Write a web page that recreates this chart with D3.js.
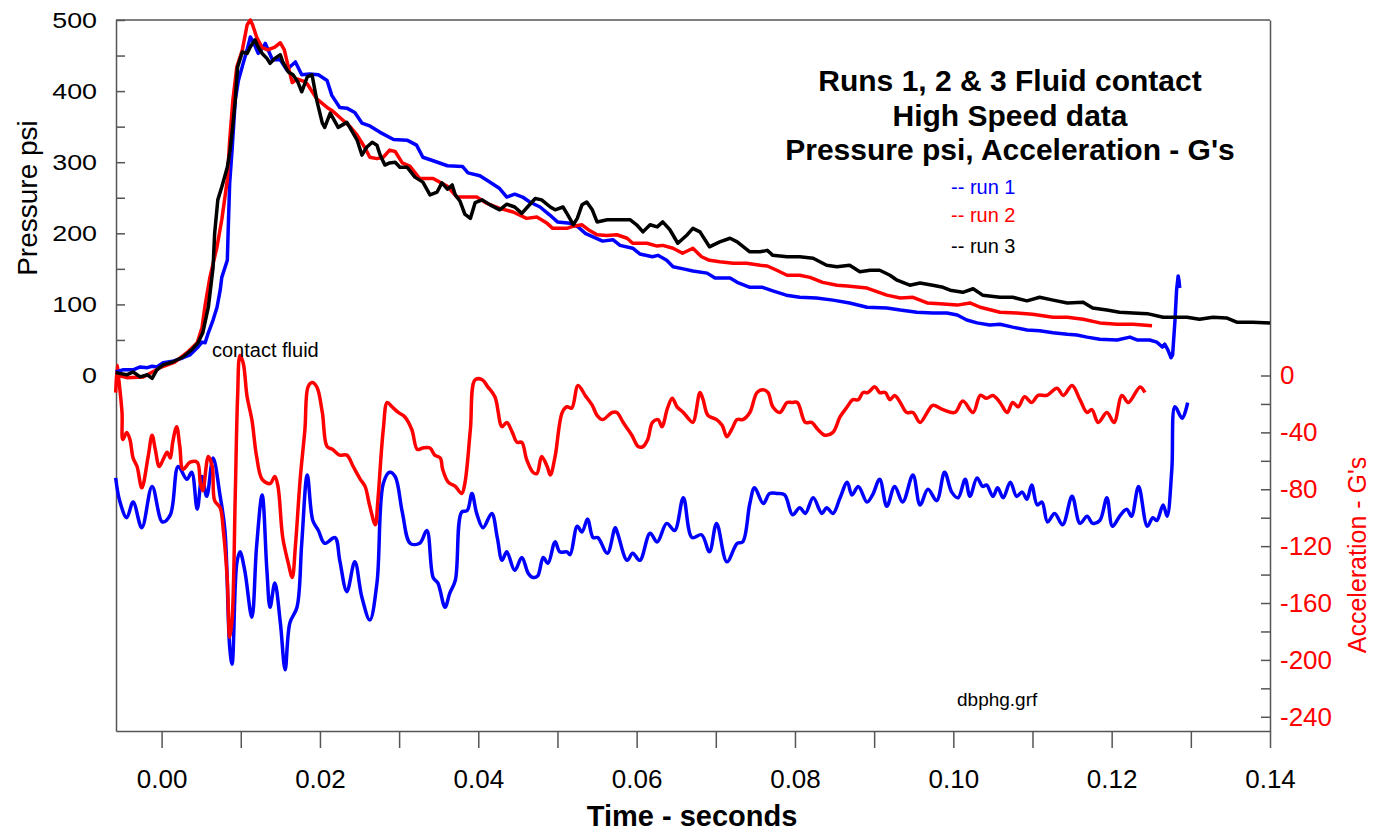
<!DOCTYPE html>
<html>
<head>
<meta charset="utf-8">
<script src="https://cdn.jsdelivr.net/npm/d3@7"></script>
<style>
    body { margin: 0; background: #fff; }
    text { font-family: "Liberation Sans", Arial, sans-serif; }
</style>
</head>
<body>
<div id="chart"></div>
<script>
// Run 1 (blue) pressure, psi
var run1Time = [
    -0.0058,-0.0049,-0.0036,-0.0027,-0.0018,-0.0012,-0.0006,0.0002,0.0014,0.0027,
    0.0036,0.0045,0.0051,0.0055,0.0059,0.0065,0.0070,0.0074,0.0076,0.0083,
    0.0084,0.0086,0.0089,0.0093,0.0097,0.0103,0.0108,0.0112,0.0116,0.0122,
    0.0127,0.0131,0.0140,0.0150,0.0158,0.0169,0.0177,0.0187,0.0198,0.0209,
    0.0215,0.0225,0.0234,0.0244,0.0253,0.0263,0.0276,0.0293,0.0310,0.0322,
    0.0330,0.0343,0.0361,0.0380,0.0387,0.0402,0.0412,0.0427,0.0436,0.0446,
    0.0456,0.0465,0.0478,0.0490,0.0500,0.0516,0.0526,0.0535,0.0545,0.0557,
    0.0570,0.0579,0.0595,0.0604,0.0620,0.0627,0.0638,0.0646,0.0659,0.0671,
    0.0689,0.0699,0.0718,0.0727,0.0743,0.0759,0.0772,0.0789,0.0806,0.0827,
    0.0848,0.0869,0.0891,0.0916,0.0933,0.0954,0.0974,0.0992,0.1005,0.1017,
    0.1030,0.1046,0.1059,0.1075,0.1093,0.1109,0.1126,0.1144,0.1156,0.1169,
    0.1185,0.1207,0.1223,0.1232,0.1248,0.1257,0.1264,0.1267,0.1271,0.1275,
    0.1277,0.1280,0.1282,0.1284,0.1285,0.1286];
var run1Pressure = [
    5,8,8,12,11,13,12,18,20,25,
    29,39,47,46,60,78,96,120,138,162,
    200,271,317,387,415,439,458,476,469,453,
    460,467,444,444,430,441,423,424,423,415,
    394,377,376,370,355,351,342,332,331,324,
    307,302,295,294,285,281,274,263,251,255,
    251,244,237,226,216,214,209,200,195,189,
    191,183,179,171,167,169,162,153,150,147,
    144,137,137,131,124,124,119,113,110,109,
    106,102,96,95,92,89,88,88,85,78,
    74,71,72,68,64,63,60,58,57,54,
    51,50,54,50,50,47,40,44,36,25,
    29,78,120,140,134,123];

// Run 2 (red) pressure, psi
var run2Time = [
    -0.0058,-0.0044,-0.0023,-0.0002,0.0017,0.0032,0.0045,0.0051,0.0055,0.0061,
    0.0070,0.0076,0.0083,0.0086,0.0090,0.0095,0.0102,0.0108,0.0112,0.0115,
    0.0120,0.0127,0.0134,0.0143,0.0150,0.0155,0.0160,0.0165,0.0171,0.0179,
    0.0184,0.0196,0.0209,0.0216,0.0228,0.0238,0.0247,0.0257,0.0263,0.0272,
    0.0280,0.0288,0.0295,0.0304,0.0314,0.0326,0.0343,0.0361,0.0373,0.0386,
    0.0398,0.0411,0.0427,0.0444,0.0461,0.0474,0.0487,0.0494,0.0512,0.0520,
    0.0531,0.0539,0.0550,0.0562,0.0575,0.0588,0.0595,0.0613,0.0626,0.0633,
    0.0646,0.0658,0.0671,0.0682,0.0692,0.0705,0.0722,0.0739,0.0756,0.0765,
    0.0777,0.0790,0.0806,0.0819,0.0835,0.0853,0.0866,0.0891,0.0916,0.0933,
    0.0949,0.0967,0.0983,0.1005,0.1021,0.1034,0.1059,0.1080,0.1100,0.1126,
    0.1144,0.1164,0.1185,0.1207,0.1227,0.1251];
var run2Pressure = [
    1,-3,-2,11,19,32,46,67,99,138,
    181,219,275,331,387,434,458,493,500,493,
    476,461,458,462,468,458,434,412,417,414,
    410,389,377,372,360,350,338,320,307,305,
    307,317,315,299,294,277,277,266,251,251,
    251,242,235,230,221,223,214,207,207,210,
    212,205,198,197,198,193,186,186,182,183,
    179,172,179,167,162,160,158,158,155,154,
    148,141,141,138,131,127,126,123,113,109,
    110,102,101,99,102,96,89,88,86,82,
    82,79,74,72,72,70];

// Run 3 (black) pressure, psi
var run3Time = [
    -0.0058,-0.0044,-0.0036,-0.0027,-0.0018,-0.0012,-0.0006,0.0002,0.0014,0.0027,
    0.0038,0.0046,0.0052,0.0059,0.0065,0.0067,0.0071,0.0076,0.0083,0.0086,
    0.0089,0.0093,0.0096,0.0102,0.0108,0.0112,0.0118,0.0122,0.0127,0.0133,
    0.0137,0.0143,0.0150,0.0153,0.0160,0.0166,0.0172,0.0177,0.0184,0.0190,
    0.0196,0.0203,0.0206,0.0213,0.0216,0.0223,0.0234,0.0247,0.0253,0.0259,
    0.0266,0.0272,0.0276,0.0282,0.0288,0.0295,0.0301,0.0310,0.0320,0.0330,
    0.0339,0.0348,0.0354,0.0361,0.0367,0.0371,0.0377,0.0383,0.0390,0.0396,
    0.0405,0.0415,0.0427,0.0436,0.0446,0.0455,0.0463,0.0472,0.0480,0.0491,
    0.0497,0.0507,0.0513,0.0520,0.0525,0.0531,0.0537,0.0544,0.0550,0.0563,
    0.0575,0.0592,0.0600,0.0608,0.0617,0.0626,0.0633,0.0642,0.0652,0.0664,
    0.0671,0.0680,0.0692,0.0705,0.0718,0.0727,0.0743,0.0756,0.0765,0.0772,
    0.0790,0.0806,0.0823,0.0840,0.0853,0.0869,0.0882,0.0895,0.0907,0.0920,
    0.0929,0.0945,0.0958,0.0974,0.0987,0.0996,0.1012,0.1025,0.1037,0.1059,
    0.1075,0.1093,0.1109,0.1126,0.1144,0.1164,0.1176,0.1194,0.1210,0.1227,
    0.1245,0.1265,0.1277,0.1295,0.1311,0.1328,0.1345,0.1358,0.1378,0.1400];
var run3Pressure = [
    4,1,5,-2,1,-4,8,15,19,26,
    36,46,60,96,152,200,247,265,293,313,
    341,387,434,455,453,462,472,462,453,446,
    439,446,451,441,427,423,413,399,420,423,
    387,355,349,369,363,349,356,331,310,321,
    328,324,310,296,299,300,293,293,279,272,
    254,258,271,262,268,254,245,227,221,243,
    247,240,233,241,237,228,238,249,247,237,
    233,237,226,212,221,240,244,233,216,219,
    219,219,212,202,212,209,216,205,186,198,
    207,202,181,188,193,188,174,174,176,169,
    167,167,165,155,153,155,146,148,148,141,
    134,127,130,127,124,120,117,122,113,110,
    110,105,110,106,102,103,95,92,89,88,
    87,82,82,82,79,82,81,75,75,74];

// Run 1 (blue) acceleration, G's
var run1AccTime = [
    -0.0058,-0.0053,-0.0044,-0.0036,-0.0025,-0.0012,0.0001,0.0011,0.0021,0.0032,
    0.0038,0.0045,0.0051,0.0057,0.0065,0.0074,0.0080,0.0086,0.0089,0.0095,
    0.0099,0.0105,0.0114,0.0120,0.0127,0.0133,0.0137,0.0143,0.0150,0.0156,
    0.0162,0.0171,0.0177,0.0184,0.0191,0.0198,0.0206,0.0219,0.0225,0.0234,
    0.0244,0.0253,0.0263,0.0272,0.0280,0.0288,0.0295,0.0304,0.0314,0.0326,
    0.0335,0.0343,0.0349,0.0358,0.0364,0.0371,0.0379,0.0386,0.0392,0.0398,
    0.0406,0.0417,0.0424,0.0430,0.0436,0.0446,0.0455,0.0463,0.0469,0.0475,
    0.0482,0.0488,0.0497,0.0503,0.0512,0.0516,0.0525,0.0531,0.0538,0.0545,
    0.0551,0.0563,0.0573,0.0576,0.0588,0.0595,0.0604,0.0617,0.0626,0.0638,
    0.0648,0.0659,0.0670,0.0682,0.0692,0.0701,0.0714,0.0727,0.0734,0.0743,
    0.0749,0.0760,0.0768,0.0778,0.0787,0.0797,0.0806,0.0813,0.0823,0.0834,
    0.0840,0.0848,0.0857,0.0866,0.0872,0.0880,0.0891,0.0898,0.0907,0.0916,
    0.0926,0.0936,0.0949,0.0958,0.0968,0.0979,0.0989,0.0998,0.1006,0.1015,
    0.1021,0.1030,0.1037,0.1042,0.1050,0.1056,0.1063,0.1072,0.1080,0.1087,
    0.1093,0.1099,0.1106,0.1112,0.1119,0.1128,0.1138,0.1150,0.1160,0.1169,
    0.1176,0.1185,0.1194,0.1201,0.1210,0.1219,0.1225,0.1234,0.1245,0.1252,
    0.1257,0.1265,0.1270,0.1276,0.1280,0.1289,0.1296];
var run1Acc = [
    -72,-88,-100,-89,-107,-78,-103,-98,-64,-73,
    -68,-94,-71,-85,-58,-85,-109,-191,-203,-132,
    -124,-137,-170,-120,-84,-137,-163,-146,-174,-207,
    -174,-163,-118,-70,-102,-109,-118,-114,-130,-152,
    -131,-156,-172,-146,-76,-68,-71,-96,-118,-118,
    -109,-142,-146,-163,-153,-144,-96,-95,-83,-97,
    -107,-97,-114,-130,-124,-137,-128,-139,-142,-141,
    -128,-132,-117,-124,-124,-126,-106,-110,-101,-114,
    -114,-125,-107,-111,-130,-125,-130,-111,-117,-104,
    -109,-86,-114,-112,-124,-104,-131,-118,-117,-90,
    -79,-90,-83,-83,-84,-98,-93,-97,-86,-97,
    -93,-97,-86,-75,-84,-78,-89,-84,-73,-92,
    -78,-89,-70,-91,-80,-88,-68,-82,-86,-73,
    -85,-72,-78,-77,-85,-79,-86,-75,-85,-82,
    -87,-77,-91,-89,-103,-97,-105,-85,-104,-99,
    -104,-102,-86,-106,-99,-94,-99,-78,-106,-100,
    -102,-91,-99,-66,-22,-30,-19];

// Run 2 (red) acceleration, G's
var run2AccTime = [
    -0.0058,-0.0056,-0.0055,-0.0050,-0.0049,-0.0044,-0.0040,-0.0036,-0.0031,-0.0025,
    -0.0017,-0.0012,-0.0008,-0.0003,0.0002,0.0007,0.0011,0.0014,0.0019,0.0023,
    0.0027,0.0036,0.0045,0.0049,0.0052,0.0059,0.0064,0.0067,0.0074,0.0078,
    0.0083,0.0086,0.0089,0.0093,0.0096,0.0099,0.0103,0.0108,0.0114,0.0120,
    0.0127,0.0137,0.0143,0.0147,0.0153,0.0160,0.0165,0.0169,0.0175,0.0181,
    0.0185,0.0190,0.0196,0.0203,0.0209,0.0216,0.0225,0.0234,0.0242,0.0251,
    0.0257,0.0263,0.0270,0.0273,0.0280,0.0285,0.0291,0.0299,0.0307,0.0316,
    0.0323,0.0330,0.0339,0.0345,0.0352,0.0355,0.0362,0.0371,0.0379,0.0383,
    0.0390,0.0396,0.0405,0.0412,0.0421,0.0430,0.0436,0.0443,0.0449,0.0455,
    0.0461,0.0469,0.0474,0.0480,0.0487,0.0491,0.0497,0.0506,0.0512,0.0518,
    0.0526,0.0535,0.0544,0.0550,0.0557,0.0569,0.0575,0.0583,0.0594,0.0602,
    0.0608,0.0614,0.0620,0.0627,0.0632,0.0639,0.0645,0.0651,0.0659,0.0665,
    0.0671,0.0680,0.0684,0.0690,0.0701,0.0708,0.0714,0.0720,0.0727,0.0734,
    0.0743,0.0752,0.0760,0.0766,0.0772,0.0781,0.0790,0.0796,0.0803,0.0813,
    0.0821,0.0829,0.0838,0.0848,0.0857,0.0866,0.0873,0.0880,0.0886,0.0892,
    0.0901,0.0907,0.0914,0.0920,0.0926,0.0933,0.0941,0.0949,0.0958,0.0967,
    0.0974,0.0987,0.1002,0.1012,0.1025,0.1034,0.1042,0.1050,0.1059,0.1068,
    0.1075,0.1082,0.1090,0.1099,0.1107,0.1118,0.1131,0.1139,0.1150,0.1160,
    0.1169,0.1175,0.1183,0.1194,0.1203,0.1213,0.1221,0.1236,0.1242];
var run2Acc = [
    -12,7,2,-26,-45,-40,-45,-58,-64,-79,
    -57,-42,-52,-64,-59,-54,-58,-47,-36,-50,
    -66,-61,-61,-76,-81,-57,-64,-88,-93,-109,
    -144,-184,-172,-85,-15,14,9,-15,-31,-57,
    -73,-76,-71,-78,-114,-132,-142,-120,-73,-38,
    -8,-5,-8,-26,-50,-52,-56,-56,-64,-73,
    -78,-92,-105,-89,-38,-19,-22,-26,-29,-38,
    -52,-51,-51,-56,-58,-66,-75,-78,-83,-76,
    -38,-3,-3,-8,-15,-36,-33,-40,-47,-47,
    -59,-68,-69,-57,-64,-70,-57,-26,-22,-23,
    -7,-14,-21,-28,-31,-26,-26,-33,-42,-50,
    -50,-45,-33,-31,-36,-23,-16,-22,-26,-30,
    -33,-12,-17,-28,-31,-35,-43,-38,-31,-31,
    -26,-12,-10,-12,-22,-26,-19,-19,-19,-33,
    -33,-38,-42,-40,-29,-22,-17,-17,-12,-12,
    -8,-12,-12,-17,-14,-19,-26,-26,-33,-26,
    -21,-24,-26,-18,-26,-14,-16,-14,-19,-26,
    -19,-22,-15,-19,-14,-14,-9,-14,-7,-17,
    -26,-24,-33,-26,-33,-14,-19,-8,-12];

// Axis ticks and labels
var timeTicks = d3.range(15).map(i => i / 100);
var pressureTicks = d3.range(0, 501, 50);
var accelTicks = d3.range(0, -241, -20);

var titleLines = ["Runs 1, 2 & 3 Fluid contact", "High Speed data", "Pressure psi, Acceleration - G's"];
var legendLabels = ["-- run 1", "-- run 2", "-- run 3"];
var runColors = ["#0000ff", "#ff0000", "#000000"];

// Join time / value arrays into point objects
function zipSeries(times, values) {
    var pts = [];
    var n = Math.min(times.length, values.length);
    for (var i = 0; i < n; i++) {
        pts.push({t: times[i], v: values[i]});
    }
    return pts;
}

var svgWidth = 1374;
var svgHeight = 832;
var plot = {left: 116, right: 1270, top: 20, bottom: 731};

var svg = d3.select("#chart")
    .append("svg")
        .attr("width", svgWidth)
        .attr("height", svgHeight);

// Scales
var x = d3.scaleLinear()
    .domain([-0.00576, 0.14])
    .range([plot.left, plot.right]);
var yPressure = d3.scaleLinear()
    .domain([-500, 500])
    .range([plot.bottom, plot.top]);
var yAccel = d3.scaleLinear()
    .domain([-250, 250])
    .range([plot.bottom, plot.top]);

var axisColor = "#555";
var labelStretch = 1.22;
var traceWidth = 3.5;

// Top border
svg.append("line")
    .attr("x1", plot.left).attr("x2", plot.right)
    .attr("y1", plot.top).attr("y2", plot.top)
    .attr("stroke", axisColor)
    .attr("stroke-width", 1.5);

// Left axis, ticks point inward, labels every 100
var leftAxis = svg.append("g")
    .attr("transform", "translate(" + plot.left + ",0)")
    .call(d3.axisLeft(yPressure)
        .tickValues(pressureTicks)
        .tickSizeInner(-9)
        .tickSizeOuter(0)
        .tickPadding(19)
        .tickFormat(d => d % 100 === 0 ? d : ""));
leftAxis.selectAll("text")
    .attr("x", -19 / labelStretch)
    .attr("transform", "scale(" + labelStretch + ",1)")
    .style("font-size", "22px")
    .style("font-family", "'Liberation Sans', Arial, sans-serif")
    .attr("fill", "#000");

// Right axis, acceleration (red)
var rightAxis = svg.append("g")
    .attr("transform", "translate(" + plot.right + ",0)")
    .call(d3.axisRight(yAccel)
        .tickValues(accelTicks)
        .tickSizeInner(-9)
        .tickSizeOuter(0)
        .tickPadding(10)
        .tickFormat(d => d % 40 === 0 ? d : ""));
rightAxis.selectAll("text")
    .style("font-size", "26px")
    .style("font-family", "'Liberation Sans', Arial, sans-serif")
    .attr("fill", "#ff0000");

// Bottom axis, time
var bottomAxis = svg.append("g")
    .attr("transform", "translate(0," + plot.bottom + ")")
    .call(d3.axisBottom(x)
        .tickValues(timeTicks)
        .tickSizeInner(17)
        .tickSizeOuter(0)
        .tickPadding(22)
        .tickFormat((d, i) => i % 2 === 0 ? d3.format(".2f")(d) : ""));
bottomAxis.selectAll("text")
    .style("font-size", "26px")
    .style("font-family", "'Liberation Sans', Arial, sans-serif")
    .attr("fill", "#000");

// Axis lines colour
svg.selectAll(".domain, .tick line")
    .attr("stroke", axisColor)
    .attr("stroke-width", 1.5);

// Line generators
var pressureLine = d3.line()
    .x(d => x(d.t))
    .y(d => yPressure(d.v));
var accelLine = d3.line()
    .curve(d3.curveCatmullRom.alpha(0.5))
    .x(d => x(d.t))
    .y(d => yAccel(d.v));

// Acceleration traces
svg.append("path")
    .attr("fill", "none")
    .attr("stroke", runColors[0])
    .attr("stroke-width", traceWidth)
    .attr("stroke-linejoin", "round")
    .attr("d", accelLine(zipSeries(run1AccTime, run1Acc)));
svg.append("path")
    .attr("fill", "none")
    .attr("stroke", runColors[1])
    .attr("stroke-width", traceWidth)
    .attr("stroke-linejoin", "round")
    .attr("d", accelLine(zipSeries(run2AccTime, run2Acc)));

// Pressure traces
var pressureSeries = [
    zipSeries(run1Time, run1Pressure),
    zipSeries(run2Time, run2Pressure),
    zipSeries(run3Time, run3Pressure)
];
pressureSeries.forEach(function(s, i) {
    svg.append("path")
        .attr("fill", "none")
        .attr("stroke", runColors[i])
        .attr("stroke-width", traceWidth)
        .attr("stroke-linejoin", "round")
        .attr("d", pressureLine(s));
});

// Axis titles
svg.append("text")
    .attr("transform", "translate(37,198) rotate(-90)")
    .attr("text-anchor", "middle")
    .style("font-size", "28px")
    .text("Pressure psi");

svg.append("text")
    .attr("transform", "translate(1366,555) rotate(-90)")
    .attr("text-anchor", "middle")
    .attr("fill", "#ff0000")
    .style("font-size", "25px")
    .text("Acceleration - G's");

svg.append("text")
    .attr("x", 692)
    .attr("y", 826)
    .attr("text-anchor", "middle")
    .style("font-size", "29px")
    .style("font-weight", "bold")
    .text("Time - seconds");

// Title block
svg.selectAll(".title")
    .data(titleLines)
    .enter()
    .append("text")
        .attr("class", "title")
        .attr("x", 1010)
        .attr("y", (d, i) => 91 + i * 34.5)
        .attr("text-anchor", "middle")
        .style("font-size", "30px")
        .style("font-weight", "bold")
        .text(d => d);

// Legend
var legendY = [194, 222, 253];
svg.selectAll(".legend")
    .data(legendLabels)
    .enter()
    .append("text")
        .attr("class", "legend")
        .attr("x", 951)
        .attr("y", (d, i) => legendY[i])
        .attr("fill", (d, i) => runColors[i])
        .style("font-size", "20px")
        .text(d => d);

// Notes
svg.append("text")
    .attr("x", 212)
    .attr("y", 357)
    .style("font-size", "20px")
    .text("contact fluid");

svg.append("text")
    .attr("x", 957)
    .attr("y", 706)
    .style("font-size", "19px")
    .text("dbphg.grf");
</script>
</body>
</html>
